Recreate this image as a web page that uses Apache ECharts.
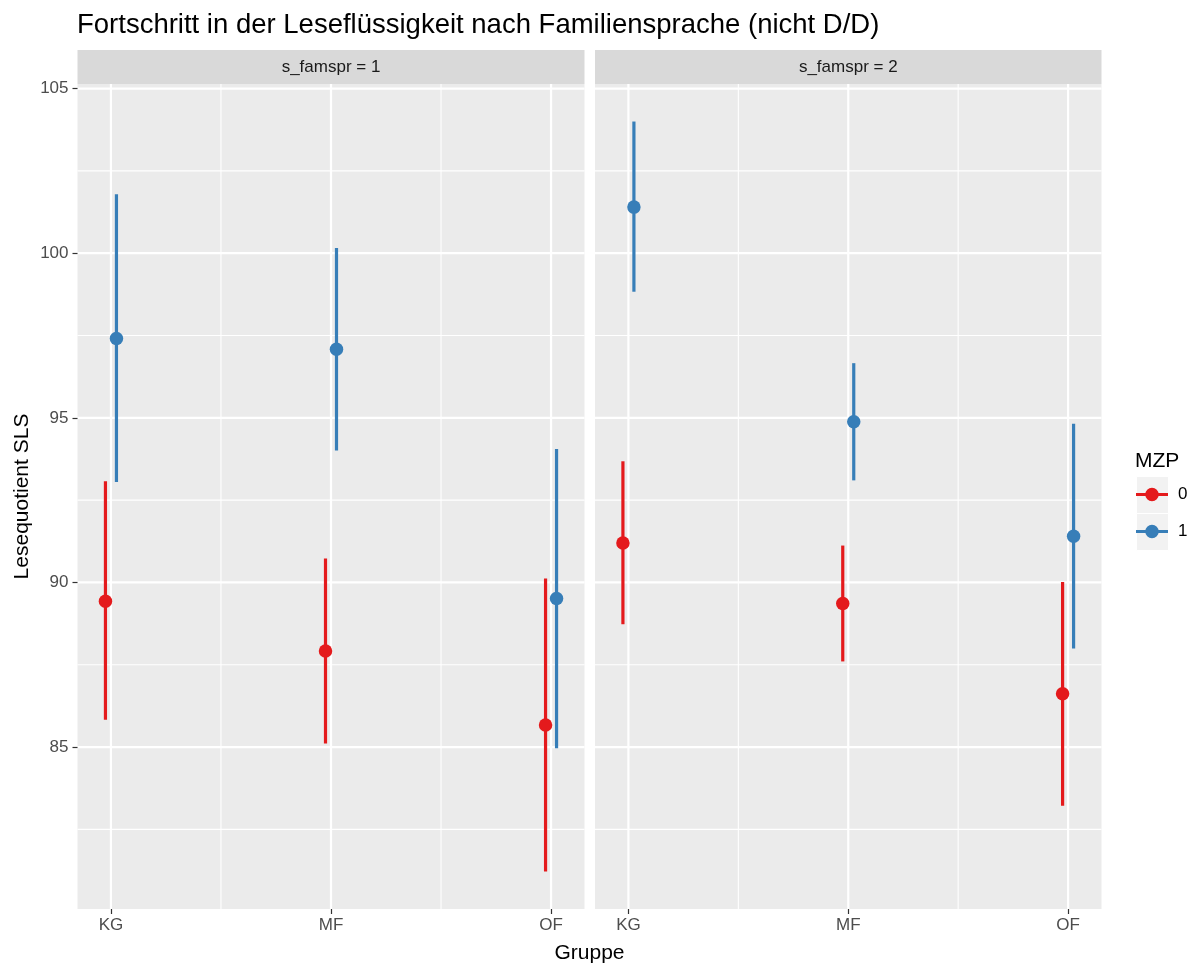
<!DOCTYPE html>
<html>
<head>
<meta charset="utf-8">
<script src="https://cdn.jsdelivr.net/npm/echarts@6/dist/echarts.min.js"></script>
<style>
  html, body { margin: 0; padding: 0; background: #ffffff; }
  #chart { width: 1192px; height: 965px; }
</style>
</head>
<body>
<div id="chart"></div>
<script>
// ---------------- data ----------------
const categories = ['KG', 'MF', 'OF'];
const facets = ['s_famspr = 1', 's_famspr = 2'];
const groups = ['0', '1'];
const yTicks = [85, 90, 95, 100, 105];

// facet 1 (s_famspr = 1)
const mean_f1_g0 = [89.43, 87.92, 85.67];
const low_f1_g0  = [85.83, 85.11, 81.22];
const high_f1_g0 = [93.07, 90.73, 90.12];
const mean_f1_g1 = [97.41, 97.08, 89.51];
const low_f1_g1  = [93.05, 94.01, 84.96];
const high_f1_g1 = [101.79, 100.16, 94.05];
// facet 2 (s_famspr = 2)
const mean_f2_g0 = [91.20, 89.36, 86.62];
const low_f2_g0  = [88.73, 87.60, 83.22];
const high_f2_g0 = [93.68, 91.12, 90.01];
const mean_f2_g1 = [101.40, 94.88, 91.40];
const low_f2_g1  = [98.83, 93.10, 87.99];
const high_f2_g1 = [104.00, 96.66, 94.82];

const seriesData = [
  [ {mean: mean_f1_g0, low: low_f1_g0, high: high_f1_g0},
    {mean: mean_f1_g1, low: low_f1_g1, high: high_f1_g1} ],
  [ {mean: mean_f2_g0, low: low_f2_g0, high: high_f2_g0},
    {mean: mean_f2_g1, low: low_f2_g1, high: high_f2_g1} ]
];

// ---------------- style ----------------
const colors = ['#E41A1C', '#377EB8'];
const dodge = [-0.025, 0.025];
const panelBg = '#EBEBEB';
const stripBg = '#D9D9D9';
const font = 'Liberation Sans, Arial, Helvetica, sans-serif';
const yMin = 80.08, yMax = 105.14;
const xMin = 0.848, xMax = 3.152;
const panels = [
  {left: 77.5, width: 507},
  {left: 595, width: 506.5}
];
const panelTop = 84, panelHeight = 825;
const stripTop = 50, stripH = 34;

const grids = [], xAxes = [], yAxes = [], series = [], graphics = [];

// gridline values
const xMajor = categories.map((c, i) => i + 1);
const xMinor = xMajor.slice(0, -1).map(v => v + 0.5);
const yMinor = [yTicks[0] - 2.5].concat(yTicks.slice(0, -1).map(v => v + 2.5));

panels.forEach((p, pi) => {
  grids.push({
    left: p.left, top: panelTop, width: p.width, height: panelHeight,
    show: true, backgroundColor: panelBg, borderWidth: 0, containLabel: false
  });
  xAxes.push({
    type: 'value', gridIndex: pi, min: xMin, max: xMax,
    axisLine: {show: false},
    axisTick: {show: true, customValues: xMajor, length: 5, lineStyle: {color: '#333333', width: 1.2}},
    axisLabel: {show: true, customValues: xMajor, margin: 8, color: '#4D4D4D', fontSize: 17, fontFamily: font,
      formatter: v => categories[Math.round(v) - 1] || ''},
    splitLine: {show: false}
  });
  yAxes.push({
    type: 'value', gridIndex: pi, min: yMin, max: yMax,
    axisLine: {show: false},
    axisTick: {show: pi === 0, customValues: yTicks, length: 5, lineStyle: {color: '#333333', width: 1.2}},
    axisLabel: {show: pi === 0, customValues: yTicks, margin: 9, color: '#4D4D4D', fontSize: 17, fontFamily: font},
    splitLine: {show: false},
    name: pi === 0 ? 'Lesequotient SLS' : '',
    nameLocation: 'middle', nameGap: 45, nameRotate: 90,
    nameTextStyle: {color: '#000000', fontSize: 21, fontFamily: font}
  });

  // gridlines via custom series
  const gl = [];
  yMinor.forEach(v => gl.push([v, 0, 0]));
  yTicks.forEach(v => gl.push([v, 0, 1]));
  xMinor.forEach(v => gl.push([v, 1, 0]));
  xMajor.forEach(v => gl.push([v, 1, 1]));
  series.push({
    type: 'custom', xAxisIndex: pi, yAxisIndex: pi, silent: true, z: 0,
    data: gl,
    renderItem: function (params, api) {
      const cs = params.coordSys;
      const v = api.value(0), horiz = api.value(1) === 0, major = api.value(2) === 1;
      let shape;
      if (horiz) {
        const y = api.coord([xMin, v])[1];
        shape = {x1: cs.x, y1: y, x2: cs.x + cs.width, y2: y};
      } else {
        const x = api.coord([v, yMin])[0];
        shape = {x1: x, y1: cs.y, x2: x, y2: cs.y + cs.height};
      }
      return {type: 'line', shape: shape,
        style: {stroke: '#FFFFFF', lineWidth: major ? 2.2 : 1.1}};
    },
    encode: {x: -1, y: -1},
    tooltip: {show: false}
  });

  groups.forEach((g, gi) => {
    const d = seriesData[pi][gi];
    const barData = categories.map((c, ci) => [ci + 1 + dodge[gi], d.low[ci], d.high[ci]]);
    const ptData = categories.map((c, ci) => [ci + 1 + dodge[gi], d.mean[ci]]);
    series.push({
      type: 'custom', name: g, xAxisIndex: pi, yAxisIndex: pi, z: 2,
      data: barData,
      encode: {x: 0, y: [1, 2]},
      renderItem: function (params, api) {
        const a = api.coord([api.value(0), api.value(1)]);
        const b = api.coord([api.value(0), api.value(2)]);
        return {type: 'line', shape: {x1: a[0], y1: a[1], x2: b[0], y2: b[1]},
          style: {stroke: colors[gi], lineWidth: 3.2}};
      },
      itemStyle: {color: colors[gi]}
    });
    series.push({
      type: 'scatter', name: g, xAxisIndex: pi, yAxisIndex: pi, z: 3,
      data: ptData, symbol: 'circle', symbolSize: 13.5,
      itemStyle: {color: colors[gi], opacity: 1}
    });
  });

  // strip
  graphics.push({
    type: 'rect', left: p.left, top: stripTop,
    shape: {width: p.width, height: stripH},
    style: {fill: stripBg}, silent: true
  });
  graphics.push({
    type: 'text', x: p.left + p.width / 2, y: stripTop + stripH / 2,
    style: {text: facets[pi], fill: '#1A1A1A', font: '17px ' + font,
      textAlign: 'center', textVerticalAlign: 'middle'},
    silent: true
  });
});

// x-axis title centred under both panels
graphics.push({
  type: 'text',
  x: (panels[0].left + panels[1].left + panels[1].width) / 2, y: 953,
  style: {text: 'Gruppe', fill: '#000000', font: '21px ' + font,
    textAlign: 'center', textVerticalAlign: 'middle'},
  silent: true
});

// legend: one legend component per key, placed explicitly
const legendLeft = 1136, legendTop = 476, keyW = 32, keyH = 37, iconH = 17;
const legendIcon = 'path://M0,6.9 L32,6.9 L32,10.1 L0,10.1 Z M16,1.75 A6.75,6.75 0 1 1 15.99,1.75 Z';
const legends = [];
groups.forEach((g, gi) => {
  graphics.push({
    type: 'rect', left: legendLeft, top: legendTop + gi * keyH,
    shape: {width: keyW, height: keyH},
    style: {fill: '#F2F2F2', stroke: '#FFFFFF', lineWidth: 1}, silent: true, z: -1
  });
  legends.push({
    data: [{name: g, icon: legendIcon, itemStyle: {color: colors[gi]}}],
    orient: 'vertical', left: legendLeft - 5,
    top: legendTop + gi * keyH + keyH / 2 - iconH / 2 - 5,
    itemWidth: keyW, itemHeight: iconH, itemGap: 0,
    textStyle: {color: '#000000', fontSize: 17, fontFamily: font, padding: [0, 0, 0, 5]},
    selectedMode: false
  });
});

const option = {
  backgroundColor: '#FFFFFF',
  animation: false,
  title: [
    {text: 'Fortschritt in der Leseflüssigkeit nach Familiensprache (nicht D/D)',
     left: 72, top: 6,
     textStyle: {color: '#000000', fontSize: 27.5, fontWeight: 'normal', fontFamily: font}},
    {text: 'MZP', left: 1130, top: 446,
     textStyle: {color: '#000000', fontSize: 21, fontWeight: 'normal', fontFamily: font}}
  ],
  grid: grids,
  xAxis: xAxes,
  yAxis: yAxes,
  series: series,
  legend: legends,
  graphic: graphics
};

const chart = echarts.init(document.getElementById('chart'), null, {renderer: 'canvas'});
chart.setOption(option);
</script>
</body>
</html>
